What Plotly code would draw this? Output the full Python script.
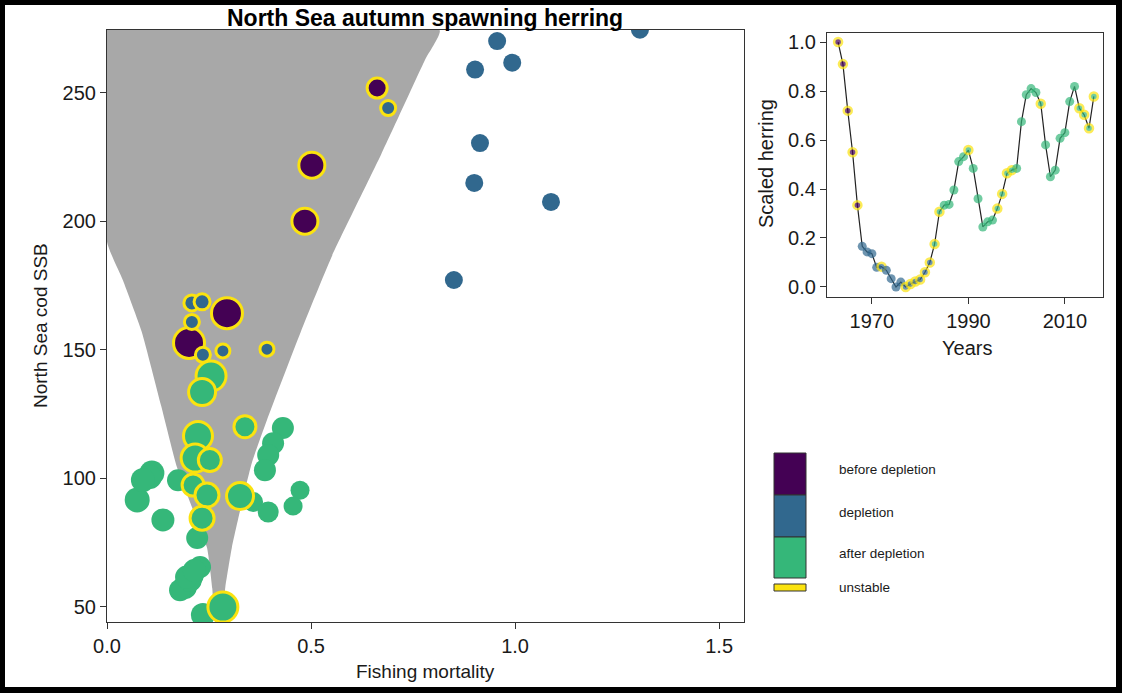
import plotly.graph_objects as go

W, H = 1122, 693

# ---------------- data: main scatter ----------------
# group: 0 = before depletion, 1 = depletion, 2 = after depletion
F = [0.662, 0.502, 0.485, 0.294, 0.201,
     1.306, 0.956, 0.902, 0.993, 0.914, 0.900, 1.088, 0.850,
     0.689, 0.208, 0.233, 0.208, 0.235, 0.284, 0.392,
     0.431, 0.407, 0.395, 0.387, 0.110, 0.074, 0.105, 0.137, 0.174, 0.358,
     0.395, 0.473, 0.456, 0.221, 0.208, 0.191, 0.228, 0.179, 0.203, 0.235,
     0.088, 0.195, 0.214,
     0.255, 0.233, 0.338, 0.223, 0.216, 0.252, 0.211, 0.245, 0.326, 0.233, 0.284]
SSB = [251.8, 221.8, 200.0, 164.2, 152.6,
       274.5, 270.1, 259.0, 261.7, 230.4, 214.9, 207.5, 177.1,
       244.0, 168.2, 168.6, 160.8, 148.0, 149.5, 150.2,
       119.5, 113.6, 109.0, 103.1, 102.0, 91.5, 100.4, 83.7, 99.2, 90.7,
       86.8, 95.3, 89.1, 76.7, 62.3, 57.6, 65.4, 56.4, 60.3, 46.7,
       99.3, 61.5, 64.0,
       139.7, 133.5, 120.0, 116.4, 107.8, 107.0, 97.3, 93.4, 93.0, 84.4, 49.8]
GROUP = [0] * 5 + [1] * 15 + [2] * 34
UNSTABLE = ([1] * 5 + [0] * 8 + [1] * 7 + [0] * 23 + [1] * 11)
BUBBLE = [23, 29, 29, 34, 34,
          18, 18, 18, 18, 18, 18, 18, 18,
          18, 19, 19, 18, 18, 17, 17,
          22, 22, 22, 22, 25, 25, 24, 23, 22, 20,
          21, 19, 19, 22, 24, 24, 22, 22, 24, 24,
          24, 23, 23,
          33, 30, 25, 32, 31, 26, 25, 27, 30, 27, 33]

# grey stability funnel (boundary)
FUN_LEFT_F = [0.265, 0.258, 0.245, 0.210, 0.172, 0.133, 0.085, 0.039, 0.0]
FUN_LEFT_SSB = [44.0, 57.0, 73.0, 88.0, 104.0, 128.0, 157.0, 177.0, 192.0]
FUN_RIGHT_F = [0.815, 0.780, 0.672, 0.550, 0.475, 0.392, 0.355, 0.330, 0.306, 0.290, 0.280]
FUN_RIGHT_SSB = [274.4, 263.0, 226.0, 186.0, 157.0, 122.6, 106.0, 90.0, 73.0, 57.6, 44.0]

# ---------------- data: inset time series ----------------
YEARS = list(range(1963, 2017))
HERRING = [1.00, 0.91, 0.72, 0.55, 0.334,
           0.166, 0.143, 0.136, 0.080, 0.083, 0.068, 0.034, 0.000, 0.020, 0.000,
           0.012, 0.022, 0.030, 0.060, 0.100,
           0.175, 0.307, 0.334, 0.337, 0.396, 0.512, 0.532, 0.559, 0.484, 0.360,
           0.245, 0.266, 0.273, 0.320, 0.380, 0.464, 0.477, 0.484, 0.675, 0.785,
           0.810, 0.794, 0.748, 0.580, 0.450, 0.477, 0.607, 0.630, 0.757, 0.819,
           0.730, 0.703, 0.648, 0.778]
UNSTABLE_YEARS = [1963, 1964, 1965, 1966, 1967, 1972, 1977, 1978, 1979, 1980,
                  1981, 1982, 1983, 1984, 1990, 1996, 1997, 1998, 1999, 2005,
                  2013, 2014, 2015, 2016]

def year_group(y):
    if y <= 1967:
        return 0
    if y <= 1982:
        return 1
    return 2

LEGEND_LABELS = ["before depletion", "depletion", "after depletion", "unstable"]

# ---------------- styles ----------------
COLORS = ["#440154", "#31688e", "#35b779"]
YELLOW = "#fbe30f"
GREY = "#a8a8a8"
FONT = "Liberation Sans, Arial, sans-serif"
INK = "#1a1a1a"


def px_x(p):
    return p / W


def px_y(p):
    return 1 - p / H


fig = go.Figure()

# funnel
fig.add_trace(go.Scatter(
    x=FUN_RIGHT_F + FUN_LEFT_F + [0.0, FUN_RIGHT_F[0]],
    y=FUN_RIGHT_SSB + FUN_LEFT_SSB + [FUN_RIGHT_SSB[0], FUN_RIGHT_SSB[0]],
    fill="toself", fillcolor=GREY, mode="lines", line=dict(width=0, shape="spline", smoothing=0.5),
    hoverinfo="skip", showlegend=False, xaxis="x", yaxis="y"))

# main scatter, by group; non-outlined first then outlined
for g in range(3):
    for u in (0, 1):
        idx = [i for i in range(len(F)) if GROUP[i] == g and UNSTABLE[i] == u]
        if not idx:
            continue
        lw = 3 if u else 0
        fig.add_trace(go.Scatter(
            x=[F[i] for i in idx], y=[SSB[i] for i in idx], mode="markers",
            marker=dict(color=COLORS[g], size=[BUBBLE[i] - lw for i in idx],
                        opacity=1, line=dict(color=YELLOW, width=lw)),
            showlegend=False, cliponaxis=True, xaxis="x", yaxis="y"))

# inset line
fig.add_trace(go.Scatter(x=YEARS, y=HERRING, mode="lines",
                         line=dict(color="#222222", width=1.2),
                         showlegend=False, xaxis="x2", yaxis="y2"))
inset_col = [COLORS[year_group(y)] for y in YEARS]
inset_lw = [2.5 if y in UNSTABLE_YEARS else 0 for y in YEARS]
inset_sz = [8 if y in UNSTABLE_YEARS else 9 for y in YEARS]
fig.add_trace(go.Scatter(x=YEARS, y=HERRING, mode="markers",
                         marker=dict(color=inset_col, size=inset_sz,
                                     line=dict(color=YELLOW, width=inset_lw)),
                         showlegend=False, cliponaxis=False, xaxis="x2", yaxis="y2"))

axis_common = dict(showline=True, linecolor="#333333", linewidth=1.2, mirror=True,
                   ticks="outside", ticklen=6, tickwidth=1.2, tickcolor="#333333",
                   showgrid=False, zeroline=False, automargin=False,
                   tickfont=dict(family=FONT, size=20, color=INK))

fig.update_layout(
    width=W, height=H, margin=dict(l=0, r=0, t=0, b=0, pad=0, autoexpand=False),
    paper_bgcolor="white", plot_bgcolor="white",
    xaxis=dict(domain=[px_x(107), px_x(744)], range=[0, 1.561],
               tickvals=[0, 0.5, 1.0, 1.5], ticktext=["0.0", "0.5", "1.0", "1.5"],
               anchor="y", **axis_common),
    yaxis=dict(domain=[px_y(622), px_y(30)], range=[44.0, 274.4],
               tickvals=[50, 100, 150, 200, 250], anchor="x", **axis_common),
    xaxis2=dict(domain=[px_x(827), px_x(1103)], range=[1960.7, 2017.9],
                tickvals=[1970, 1990, 2010], anchor="y2", **axis_common),
    yaxis2=dict(domain=[px_y(297), px_y(33)], range=[-0.041, 1.037],
                tickvals=[0, 0.2, 0.4, 0.6, 0.8, 1.0],
                ticktext=["0.0", "0.2", "0.4", "0.6", "0.8", "1.0"],
                anchor="x2", **axis_common),
)

def label(text, x, y, size=20, angle=0, xanchor="center", bold=False, color=INK):
    return dict(text=("<b>%s</b>" % text) if bold else text, x=px_x(x), y=px_y(y),
                xref="paper", yref="paper", showarrow=False, textangle=angle,
                xanchor=xanchor, yanchor="middle",
                font=dict(family=FONT, size=size, color=color))

ann = [
    label("North Sea autumn spawning herring", 425, 18, size=23, bold=True, color="black"),
    label("Fishing mortality", 425, 671, size=19),
    label("North Sea cod SSB", 40, 326, size=19, angle=-90),
    label("Scaled herring", 766, 164, angle=-90),
    label("Years", 967, 348),
]

shapes = []
# legend boxes
box_y = [(453, 495), (495, 537), (537, 578)]
for g, (y0, y1) in enumerate(box_y):
    shapes.append(dict(type="rect", xref="paper", yref="paper",
                       x0=px_x(774), x1=px_x(806), y0=px_y(y1), y1=px_y(y0),
                       fillcolor=COLORS[g], line=dict(color="#333333", width=1)))
shapes.append(dict(type="rect", xref="paper", yref="paper",
                   x0=px_x(774), x1=px_x(806), y0=px_y(591), y1=px_y(584),
                   fillcolor=YELLOW, line=dict(color="#333333", width=1)))
label_y = [469, 512, 553, 587]
for lab, ly in zip(LEGEND_LABELS, label_y):
    ann.append(label(lab, 837, ly, size=13.5, xanchor="left"))

# black frame around the picture
for (x0, x1, y0, y1) in [(0, W, 0, 5), (0, 5, 0, H), (0, W, 687, H), (1116, W, 0, H)]:
    shapes.append(dict(type="rect", xref="paper", yref="paper", layer="above",
                       x0=px_x(x0), x1=px_x(x1), y0=px_y(y1), y1=px_y(y0),
                       fillcolor="black", line=dict(width=0)))

fig.update_layout(annotations=ann, shapes=shapes)
fig.write_html("out.html")
